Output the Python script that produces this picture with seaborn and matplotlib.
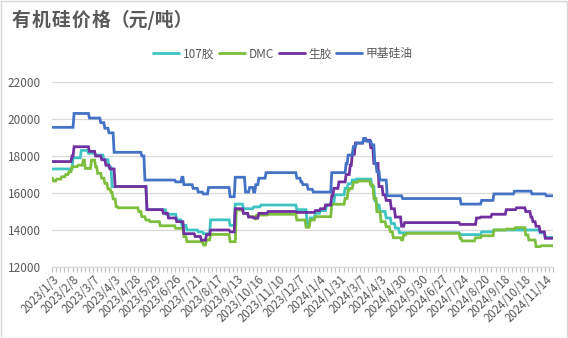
import numpy as np
import pandas as pd
import matplotlib
matplotlib.use("Agg")
import matplotlib.pyplot as plt
import seaborn as sns
from matplotlib.patches import Rectangle
from matplotlib.lines import Line2D

# ---- data -------------------------------------------------------------
# trading-day index axis; prices are step series given as (start day, price)
n_days = 488
label_step = 20
tick_labels = [
    "2023/1/3", "2023/2/8", "2023/3/7", "2023/4/3", "2023/4/28", "2023/5/29",
    "2023/6/26", "2023/7/21", "2023/8/17", "2023/9/13", "2023/10/16",
    "2023/11/10", "2023/12/7", "2024/1/4", "2024/1/31", "2024/3/7",
    "2024/4/3", "2024/4/30", "2024/5/30", "2024/6/27", "2024/7/24",
    "2024/8/20", "2024/9/18", "2024/10/18", "2024/11/14",
]
series_names = ["107胶", "DMC", "生胶", "甲基硅油"]

steps_107 = [
    (0, 17300), (20, 17900), (28, 18300), (35, 18150), (42, 18050), (50, 17800),
    (55, 17400), (58, 16350), (92, 15100), (111, 14850), (121, 14550),
    (126, 14250), (131, 14000), (142, 13900), (147, 13800), (154, 14550),
    (173, 14250), (178, 15400), (186, 15150), (196, 15250), (203, 15350),
    (238, 15100), (248, 14300), (251, 14650), (256, 14900), (261, 15050),
    (267, 15350), (271, 15450), (275, 15900), (285, 16250), (288, 16500),
    (292, 16700), (296, 16750), (311, 16350), (314, 15600), (316, 15350),
    (319, 15000), (325, 14650), (330, 14350), (334, 14100), (338, 13850),
    (397, 13750), (418, 13900), (430, 14000), (475, 13850), (480, 13600),
]
steps_dmc = [
    (0, 16800), (1, 16650), (4, 16750), (9, 16880), (13, 17000), (16, 17150),
    (19, 17420), (25, 17500), (30, 17780), (32, 17330), (38, 17780),
    (42, 17420), (44, 17060), (48, 16800), (51, 16520), (54, 16220),
    (57, 16040), (59, 15680), (62, 15260), (64, 15200), (84, 15000),
    (87, 14720), (91, 14540), (95, 14450), (105, 14230), (120, 14090),
    (128, 13640), (131, 13370), (147, 13190), (150, 13460), (154, 13760),
    (173, 13370), (179, 15080), (186, 14900), (191, 14720), (198, 14540),
    (199, 14810), (210, 14850), (238, 14540), (247, 14150), (251, 14540),
    (256, 14720), (272, 15390), (285, 15710), (288, 16160), (290, 16250),
    (293, 16580), (298, 16650), (310, 16430), (313, 15710), (316, 14990),
    (320, 14450), (325, 14180), (329, 13910), (332, 13580), (340, 13460),
    (342, 13730), (345, 13820), (397, 13550), (399, 13410), (412, 13580),
    (418, 13690), (430, 14000), (442, 14050), (451, 14130), (461, 13730),
    (464, 13460), (471, 13100), (476, 13150),
]
steps_raw_rubber = [
    (0, 17700), (19, 18000), (21, 18500), (36, 18250), (42, 18000), (48, 17800),
    (52, 17500), (56, 17300), (61, 16350), (92, 15100), (108, 14900),
    (113, 14650), (121, 14450), (128, 13800), (139, 13650), (145, 13450),
    (150, 13750), (154, 14000), (173, 13900), (178, 15150), (186, 14900),
    (191, 14700), (196, 14650), (201, 14900), (210, 15000), (238, 14950),
    (256, 15050), (261, 15150), (266, 15350), (272, 15850), (274, 16250),
    (279, 16600), (286, 17000), (290, 17500), (292, 18100), (295, 18700),
    (303, 18850), (310, 18450), (313, 17600), (318, 16350), (322, 15900),
    (325, 15600), (330, 15150), (334, 14700), (340, 14200), (343, 14400),
    (397, 14300), (413, 14650), (417, 14700), (428, 14850), (442, 15100),
    (452, 15200), (461, 15000), (466, 14700), (468, 14450), (471, 14200),
    (475, 13900), (480, 13550),
]
steps_methyl_oil = [
    (0, 19550), (21, 20300), (36, 20050), (47, 19800), (51, 19500), (55, 19250),
    (60, 18200), (87, 18000), (90, 16700), (120, 16600), (126, 16850),
    (128, 16450), (137, 16250), (142, 16050), (147, 15950), (152, 16300),
    (173, 15800), (178, 16850), (188, 16050), (192, 16300), (196, 16050),
    (198, 16450), (201, 16800), (208, 17100), (238, 16800), (242, 16600),
    (244, 16450), (249, 16200), (254, 16050), (272, 17100), (286, 17600),
    (288, 18050), (293, 18500), (296, 18700), (303, 18950), (306, 18800),
    (311, 18600), (314, 17600), (316, 17150), (319, 16700), (326, 15850),
    (341, 15700), (398, 15400), (418, 15600), (430, 15950), (450, 16100),
    (467, 15950), (481, 15850),
]

colors = ["#3FC4C4", "#7DBE3C", "#7030A0", "#4472C4"]


def expand(steps, n):
    """Turn (start day, price) steps into one price per trading day."""
    vals = np.empty(n)
    bounds = [s for s, _ in steps[1:]] + [n]
    for (start, price), stop in zip(steps, bounds):
        vals[start:stop] = price
    return vals


day = np.arange(n_days)
frames = []
for name, steps in zip(series_names,
                       [steps_107, steps_dmc, steps_raw_rubber, steps_methyl_oil]):
    frames.append(pd.DataFrame({"day": day, "price": expand(steps, n_days),
                                "series": name}))
df = pd.concat(frames, ignore_index=True)

# ---- figure -----------------------------------------------------------
sns.set_theme(style="white")
plt.rcParams["font.family"] = ["Noto Sans CJK SC", "DejaVu Sans"]

W, H = 568, 338
fig = plt.figure(figsize=(W / 100, H / 100), dpi=100)
ax = fig.add_axes([52 / W, 1 - 267 / H, (553 - 52) / W, (267 - 82) / H])

sns.lineplot(data=df, x="day", y="price", hue="series", hue_order=series_names,
             palette=colors, linewidth=2.0, legend=False, ax=ax,
             solid_joinstyle="miter")

ax.set_xlim(-0.5, n_days - 0.5)
ax.set_ylim(12000, 22000)
ax.set_yticks(np.arange(12000, 22001, 2000))
ax.yaxis.grid(True, color="#D9D9D9", linewidth=0.9)
ax.xaxis.grid(False)
for side in ["top", "right", "left"]:
    ax.spines[side].set_visible(False)
ax.spines["bottom"].set_color("#D9D9D9")
ax.spines["bottom"].set_linewidth(0.9)
ax.set_xlabel("")
ax.set_ylabel("")

ax.set_xticks(np.arange(len(tick_labels)) * label_step)
ax.set_xticklabels(tick_labels, rotation=45, ha="right", va="top",
                   rotation_mode="anchor")
ax.set_xticks(np.arange(-0.5, n_days, 4), minor=True)
ax.tick_params(axis="x", which="major", length=0, pad=4, labelsize=8.3,
               labelcolor="#595959")
ax.tick_params(axis="x", which="minor", length=3.5, width=0.8, color="#BFBFBF",
               direction="out", bottom=True)
ax.tick_params(axis="y", length=0, pad=8, labelsize=8.5, labelcolor="#595959")

# title: spaced main words, then the unit in brackets
title_main = "有机硅价格"
title_unit = "（元/吨）"
title_style = dict(va="center", fontsize=13.5, fontweight="bold", color="#595959")
for i, ch in enumerate(title_main):
    fig.text((21 + 20 * i) / W, 1 - 20 / H, ch, ha="center", **title_style)
fig.text(111 / W, 1 - 20 / H, title_unit, ha="left", **title_style)

handles = [Line2D([], [], color=c, linewidth=2.0) for c in colors]
fig.legend(handles, series_names, loc="center", ncol=4,
           bbox_to_anchor=(283 / W, 1 - 54 / H), frameon=False, fontsize=8.5,
           handlelength=2.2, handletextpad=0.3, columnspacing=0.4,
           labelcolor="#595959")

fig.patches.append(Rectangle((0.5 / W, 0.5 / H), 1 - 1.5 / W, 1 - 1.5 / H,
                             transform=fig.transFigure, fill=False,
                             edgecolor="#D9D9D9", linewidth=1))

fig.savefig("out.png", dpi=100, facecolor="white")
